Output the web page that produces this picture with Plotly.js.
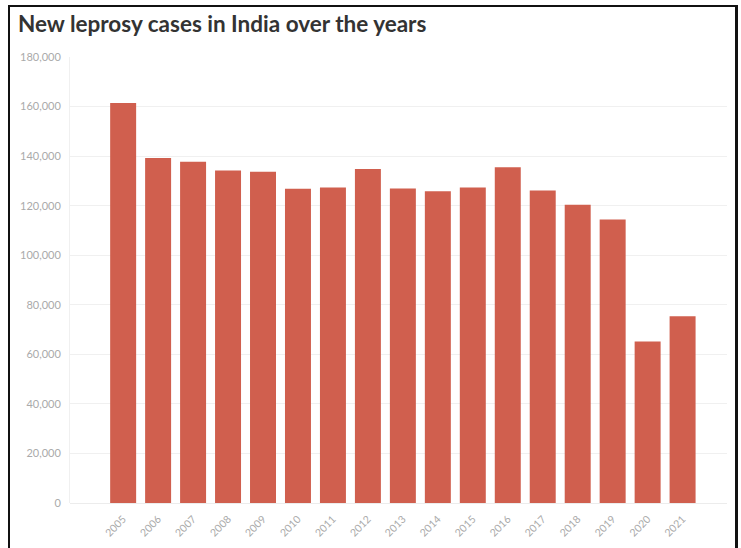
<!DOCTYPE html>
<html>
<head>
<meta charset="utf-8">
<script src="https://cdn.plot.ly/plotly-3.0.1.min.js"></script>
<style>
  html, body { margin: 0; padding: 0; background: #fff; }
  #wrap { position: relative; width: 741px; height: 548px; overflow: hidden; }
  #chart { position: absolute; left: 0; top: 0; width: 741px; height: 548px; }
  #frame {
    position: absolute; left: 8px; top: 5px; width: 725px; height: 560px;
    border-left: 2px solid #111; border-top: 2px solid #111; border-right: 3px solid #111;
    pointer-events: none;
  }
</style>
</head>
<body>
<div id="wrap">
  <div id="chart"></div>
  <div id="frame"></div>
</div>
<script>
// New leprosy cases detected in India, by year
const years = ['2005', '2006', '2007', '2008', '2009', '2010', '2011', '2012', '2013',
               '2014', '2015', '2016', '2017', '2018', '2019', '2020', '2021'];
const newCases = [161457, 139252, 137685, 134184, 133717, 126800, 127295, 134752, 126913,
                  125785, 127334, 135485, 126164, 120334, 114451, 65147, 75394];
const yTicks = [0, 20000, 40000, 60000, 80000, 100000, 120000, 140000, 160000, 180000];
const yTickText = ['0', '20,000', '40,000', '60,000', '80,000', '100,000', '120,000',
                   '140,000', '160,000', '180,000'];

const trace = {
  type: 'bar',
  x: years,
  y: newCases,
  marker: { color: '#d05f4e' },
  hoverinfo: 'x+y'
};

const layout = {
  width: 741,
  height: 548,
  margin: { l: 70, r: 14, t: 57, b: 45 },
  paper_bgcolor: '#ffffff',
  plot_bgcolor: '#ffffff',
  font: { family: 'Lato, "Open Sans", sans-serif', color: '#aaaaaa', size: 11 },
  title: {
    text: '<b>New leprosy cases in India over the years</b>',
    font: { family: 'Lato, "Open Sans", sans-serif', size: 22.5, color: '#333333' },
    x: 0, xref: 'container', xanchor: 'left',
    y: 1, yref: 'container', yanchor: 'top',
    pad: { l: 18, t: 16 }
  },
  bargap: 0.257,
  xaxis: {
    type: 'category',
    range: [-1.52, 17.27],
    tickangle: -45,
    showgrid: false,
    showline: false,
    ticks: '',
    ticklabelstandoff: 7,
    tickfont: { size: 10.5, color: '#aaaaaa' },
    fixedrange: true
  },
  yaxis: {
    range: [0, 180000],
    tickvals: yTicks,
    ticktext: yTickText,
    showgrid: true,
    gridcolor: '#f0f0f0',
    gridwidth: 1,
    zeroline: true,
    zerolinecolor: '#ececec',
    showline: true,
    linecolor: '#f0f0f0',
    ticks: '',
    ticklabelstandoff: 6,
    tickfont: { size: 11, color: '#aaaaaa' },
    fixedrange: true
  },
  showlegend: false
};

Plotly.newPlot('chart', [trace], layout, { displayModeBar: false, staticPlot: true });
</script>
</body>
</html>
